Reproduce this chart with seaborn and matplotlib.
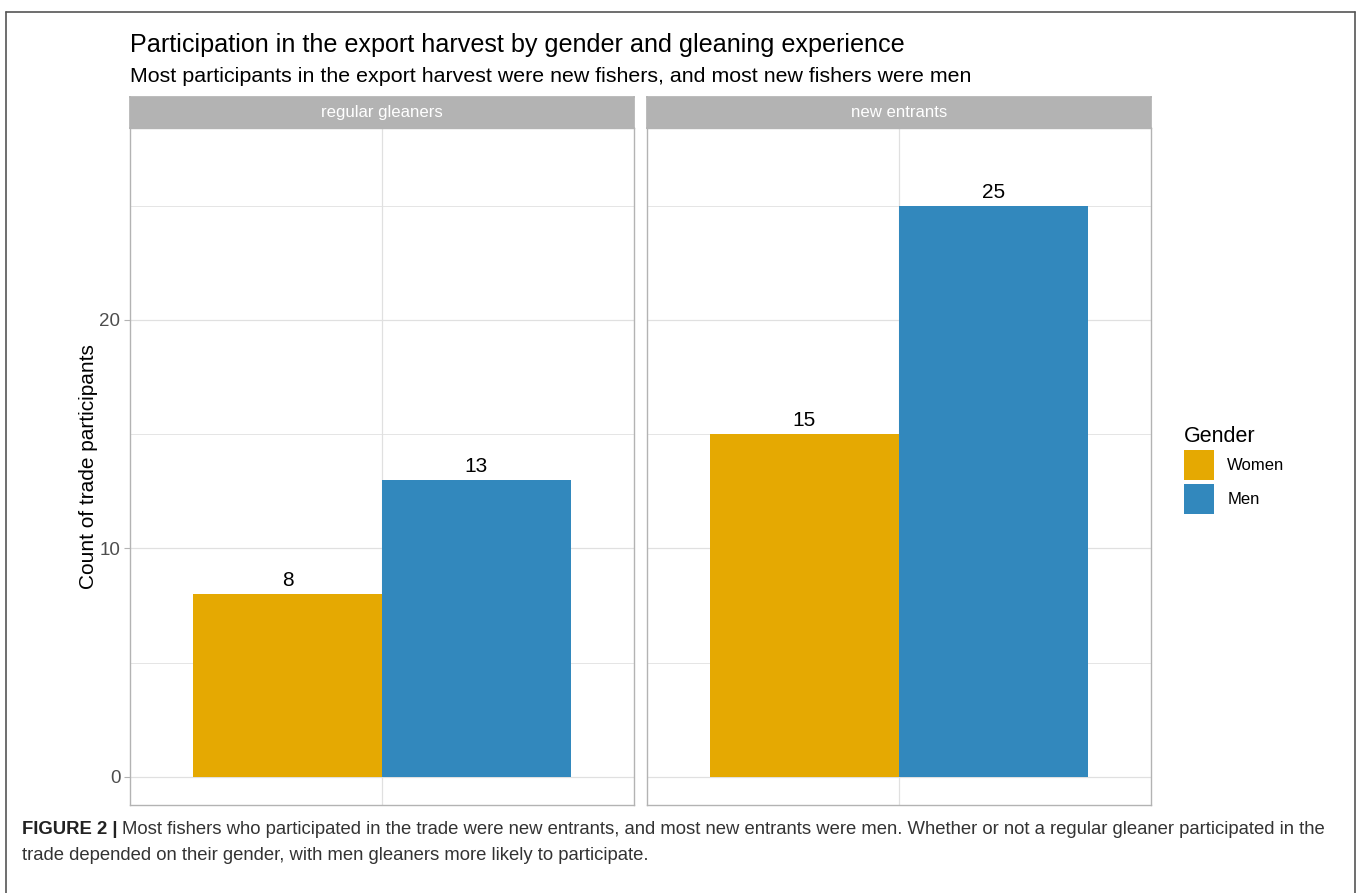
import matplotlib.pyplot as plt
import matplotlib.ticker as ticker
import seaborn as sns
import pandas as pd

# values
experience = ["regular gleaners", "regular gleaners", "new entrants", "new entrants"]
gender = ["Women", "Men", "Women", "Men"]
counts = [8, 13, 15, 25]
panels = ["regular gleaners", "new entrants"]
gender_order = ["Women", "Men"]
colors = {"Women": "#E5A902", "Men": "#3288BD"}

title = "Participation in the export harvest by gender and gleaning experience"
subtitle = "Most participants in the export harvest were new fishers, and most new fishers were men"
caption_bold = "FIGURE 2 |"
caption_1 = ("Most fishers who participated in the trade were new entrants, and most new entrants were men. "
             "Whether or not a regular gleaner participated in the")
caption_2 = "trade depended on their gender, with men gleaners more likely to participate."

GRID = "#e0e0e0"
BORDER = "#b3b3b3"
W, H = 1358, 893


def fx(px):
    return px / W


def fy(py):
    return 1 - py / H


def main():
    df = pd.DataFrame({"Experience": experience, "Gender": gender, "Count": counts})
    sns.set_theme(style="white")
    plt.rcParams["font.family"] = ["Liberation Sans", "DejaVu Sans"]
    plt.rcParams["text.color"] = "black"

    fig = plt.figure(figsize=(W / 100, H / 100), dpi=100)
    lefts = [130, 647]
    pw = 504
    for i, (panel, left) in enumerate(zip(panels, lefts)):
        ax = fig.add_axes([fx(left), fy(805), pw / W, 677 / H])
        sub = df[df["Experience"] == panel]
        sns.barplot(data=sub, x="Experience", y="Count", hue="Gender", hue_order=gender_order,
                    palette=colors, saturation=1, width=0.9, ax=ax, legend=(i == 0),
                    linewidth=0, zorder=2)
        for c in ax.containers:
            ax.bar_label(c, padding=3, fontsize=15, color="black")
        ax.set_xlim(-0.6, 0.6)
        ax.set_ylim(-1.23, 28.4)
        ax.yaxis.set_major_locator(ticker.MultipleLocator(10))
        ax.yaxis.set_minor_locator(ticker.MultipleLocator(5))
        ax.grid(which="major", axis="y", color=GRID, lw=0.9, zorder=0)
        ax.grid(which="minor", axis="y", color=GRID, lw=0.6, zorder=0)
        ax.axvline(0, color=GRID, lw=0.9, zorder=0)
        ax.set_xticks([])
        ax.set_xlabel("")
        ax.set_ylabel("")
        for s in ax.spines.values():
            s.set_color(BORDER)
            s.set_linewidth(1.0)
        ax.tick_params(axis="y", which="major", length=4, width=0.8, color=BORDER,
                       labelsize=13.5, labelcolor="#4d4d4d", pad=3, left=True)
        ax.tick_params(axis="y", which="minor", length=0)
        if i == 0:
            ax.set_ylabel("Count of trade participants", fontsize=15, color="black", labelpad=1)
            handles, labels = ax.get_legend_handles_labels()
            ax.get_legend().remove()
        else:
            ax.tick_params(axis="y", which="major", length=0, labelleft=False)
        # facet strip
        sax = fig.add_axes([fx(left), fy(128), pw / W, 31 / H])
        sax.set_facecolor(BORDER)
        sax.set_xticks([])
        sax.set_yticks([])
        for s in sax.spines.values():
            s.set_color(BORDER)
        sax.text(0.5, 0.5, panel, ha="center", va="center", color="white", fontsize=12.1,
                 transform=sax.transAxes)

    leg = fig.legend(handles, labels, title="Gender", loc="upper left",
                     bbox_to_anchor=(fx(1169), fy(411)), frameon=False, fontsize=12,
                     title_fontsize=15.5, handlelength=1.8, handleheight=2.39,
                     labelspacing=0.2, handletextpad=0.8, alignment="left")
    leg.get_title().set_color("black")
    for t in leg.get_texts():
        t.set_color("black")

    fig.text(fx(130), fy(45), title, fontsize=18.1, va="center", ha="left", color="black")
    fig.text(fx(130), fy(76), subtitle, fontsize=15.4, va="center", ha="left", color="black")

    # caption with bold lead-in
    tb = fig.text(fx(22), fy(829), caption_bold, fontsize=13.3, fontweight="bold",
                  va="center", ha="left", color="#222222")
    fig.canvas.draw()
    bb = tb.get_window_extent()
    fig.text((bb.x1 + 4) / W, fy(829), caption_1, fontsize=13.3, va="center", ha="left",
             color="#333333")
    fig.text(fx(22), fy(856), caption_2, fontsize=13.3, va="center", ha="left",
             color="#333333")

    # outer frame (top, left, right)
    fig.add_artist(plt.Line2D([fx(6), fx(1355)], [fy(12), fy(12)], color="#555555", lw=1.2))
    fig.add_artist(plt.Line2D([fx(6), fx(6)], [fy(12), 0], color="#555555", lw=1.2))
    fig.add_artist(plt.Line2D([fx(1355), fx(1355)], [fy(12), 0], color="#555555", lw=1.2))

    fig.savefig("out.png", dpi=100)


if __name__ == "__main__":
    main()
